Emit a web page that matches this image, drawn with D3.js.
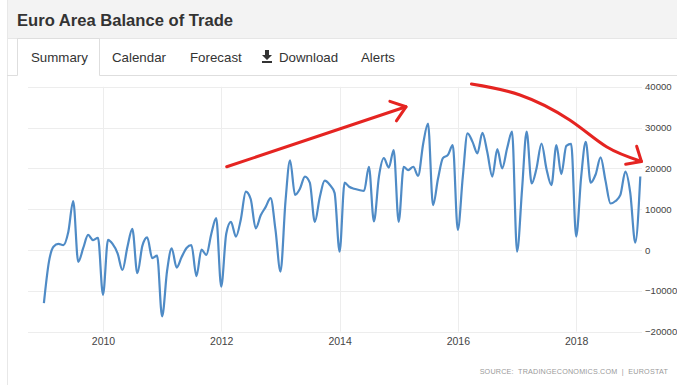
<!DOCTYPE html>
<html>
<head>
<meta charset="utf-8">
<script src="https://cdn.jsdelivr.net/npm/d3@7"></script>
<style>
  html, body { margin: 0; padding: 0; background: #fff; }
  svg { display: block; font-family: "Liberation Sans", Arial, Helvetica, sans-serif; }
</style>
</head>
<body>
<svg id="chart" width="677" height="385"></svg>
<script>
// Euro area balance of trade, EUR million, monthly from January 2009
const firstMonth = "2009-01-01";
const tradeBalance = [
  // 2009
  -13000, -2900, 800, 1500, 1200, 4500, 12000, -2900, 500, 3700, 2400, 3000,
  // 2010
  -11000, 2500, 1500, -800, -4900, 800, 5200, -5700, 1000, 3100, -2000, -1400,
  // 2011
  -16300, -5000, 400, -4300, -1800, 500, 1200, -6400, 100, -1200, 4000, 7800,
  // 2012
  -9000, 4000, 6900, 3300, 7500, 14300, 12500, 5300, 8500, 10500, 12700, 5000,
  // 2013
  -5300, 12000, 22000, 13500, 15000, 18000, 16500, 6900, 13000, 17000, 16000, 14000,
  // 2014
  -400, 16500, 15500, 15000, 14700, 14500, 20400, 7000, 18000, 22500, 20200, 24500,
  // 2015
  6900, 20400, 19600, 20400, 18200, 26000, 31000, 11000, 17500, 22500, 23300, 25700,
  // 2016
  4900, 18000, 28600, 26500, 23700, 28700, 24000, 18000, 24700, 20000, 25000, 29000,
  // 2017
  -400, 15000, 29000, 16300, 20000, 26100, 20000, 15900, 25700, 18600, 25500, 26000,
  // 2018
  3300, 18000, 26500, 16500, 18500, 22700, 17000, 11400, 12000, 13500, 19200, 14000,
  // 2019
  1800, 18000
];

const yTickValues = [-20000, -10000, 0, 10000, 20000, 30000, 40000];
const xTickYears = [2010, 2012, 2014, 2016, 2018];
const tabLabels = ["Summary", "Calendar", "Forecast", "Download", "Alerts"];
const titleText = "Euro Area Balance of Trade";
const sourceText = "SOURCE:  TRADINGECONOMICS.COM  |  EUROSTAT";

// Hand-drawn trend arrows, anchored in (date, value) space
const riseArrow = [["2012-02-04", 20400], ["2015-02-15", 35100]];
const fallArrow = [["2016-03-25", 40700], ["2017-01-19", 38000], ["2017-11-22", 31850],
                   ["2018-07-07", 25300], ["2019-02-08", 21700]];

const W = 677, H = 385;
const svg = d3.select("#chart");

// ---------- page frame ----------
svg.append("rect").attr("x", 0).attr("y", 0).attr("width", W).attr("height", H).attr("fill", "#fff");
svg.append("rect").attr("x", 7).attr("y", 0).attr("width", W - 7).attr("height", 38).attr("fill", "#f3f3f3");
svg.append("line").attr("x1", 7).attr("x2", W).attr("y1", 38.5).attr("y2", 38.5).attr("stroke", "#e6e6e6");
svg.append("line").attr("x1", 7.5).attr("x2", 7.5).attr("y1", 0).attr("y2", H).attr("stroke", "#e8e8e8");

svg.append("text").attr("x", 17).attr("y", 26)
  .attr("font-size", 16.6).attr("font-weight", "bold").attr("fill", "#333")
  .text(titleText);

// ---------- tabs ----------
svg.append("path")
  .attr("d", "M7,75.5 H17.5 V38.5 H99.5 V75.5 H677")
  .attr("fill", "none").attr("stroke", "#dedede");
svg.append("rect").attr("x", 18).attr("y", 39).attr("width", 81).attr("height", 37).attr("fill", "#fff");

const tabX = [31, 112, 190, 279, 361];
tabLabels.forEach((t, i) => {
  svg.append("text").attr("x", tabX[i]).attr("y", 62)
    .attr("font-size", 13.3).attr("fill", "#333").text(t);
});
// download glyph
svg.append("path")
  .attr("d", "M265,50 h4 v5 h3 l-5,5 l-5,-5 h3 z M262,61 h10 v2 h-10 z")
  .attr("fill", "#333");

// ---------- scales ----------
const parse = d3.utcParse("%Y-%m-%d");
const t0 = parse(firstMonth);
const series = tradeBalance.map((v, i) => ({ date: d3.utcMonth.offset(t0, i), value: v }));

const x = d3.scaleUtc()
  .domain([t0, series[series.length - 1].date])
  .range([43.9, 640.3]);
const y = d3.scaleLinear().domain([-20000, 40000]).range([331.6, 86.8]);

const plotLeft = 28, plotRight = 642;

// ---------- grid ----------
const grid = svg.append("g").attr("stroke", "#ededed").attr("stroke-width", 1);
grid.selectAll("line.h").data(yTickValues).join("line")
  .attr("x1", plotLeft).attr("x2", plotRight)
  .attr("y1", d => Math.round(y(d)) + 0.5).attr("y2", d => Math.round(y(d)) + 0.5);
grid.selectAll("line.v").data(xTickYears).join("line")
  .attr("x1", d => Math.round(x(new Date(Date.UTC(d, 0, 1)))) + 0.5)
  .attr("x2", d => Math.round(x(new Date(Date.UTC(d, 0, 1)))) + 0.5)
  .attr("y1", y(40000)).attr("y2", y(-20000));

// ---------- axes (labels only) ----------
const yAxis = d3.axisRight(y).tickValues(yTickValues).tickSize(0).tickPadding(0).tickFormat(d3.format("d"));
svg.append("g").attr("transform", "translate(645,0)").call(yAxis)
  .call(g => g.select(".domain").remove())
  .call(g => g.selectAll("text").attr("font-size", 9.6).attr("fill", "#444")
    .attr("font-family", "\"Liberation Sans\", Arial, sans-serif"));

const xAxis = d3.axisBottom(x)
  .tickValues(xTickYears.map(yr => new Date(Date.UTC(yr, 0, 1))))
  .tickSize(0).tickPadding(0).tickFormat(d3.utcFormat("%Y"));
svg.append("g").attr("transform", "translate(0,338)").call(xAxis)
  .call(g => g.select(".domain").remove())
  .call(g => g.selectAll("text").attr("font-size", 10.5).attr("fill", "#444")
    .attr("font-family", "\"Liberation Sans\", Arial, sans-serif"));

// ---------- series ----------
const line = d3.line().x(d => x(d.date)).y(d => y(d.value)).curve(d3.curveMonotoneX);
svg.append("path").datum(series)
  .attr("d", line)
  .attr("fill", "none")
  .attr("stroke", "#4f8bc6")
  .attr("stroke-width", 2.2)
  .attr("stroke-linejoin", "round");

// ---------- source ----------
svg.append("text").attr("x", 668).attr("y", 374).attr("text-anchor", "end")
  .attr("font-size", 7.2).attr("fill", "#9a9a9a").attr("letter-spacing", 0.2)
  .style("white-space", "pre")
  .text(sourceText);

// ---------- trend arrows ----------
const red = "#e52421";
const toPx = p => [x(parse(p[0])), y(p[1])];

function arrowHead(tip, angle, len, spread) {
  const back = angle + Math.PI;
  const a1 = [tip[0] + len * Math.cos(back - spread), tip[1] + len * Math.sin(back - spread)];
  const a2 = [tip[0] + len * Math.cos(back + spread), tip[1] + len * Math.sin(back + spread)];
  return `M${a1[0]},${a1[1]} L${tip[0]},${tip[1]} L${a2[0]},${a2[1]}`;
}

const rise = riseArrow.map(toPx);
svg.append("path")
  .attr("d", d3.line()(rise))
  .attr("fill", "none").attr("stroke", red).attr("stroke-width", 3).attr("stroke-linecap", "round");
const riseAng = Math.atan2(rise[1][1] - rise[0][1], rise[1][0] - rise[0][0]);
svg.append("path")
  .attr("d", arrowHead(rise[1], riseAng, 17, 0.65))
  .attr("fill", "none").attr("stroke", red).attr("stroke-width", 3)
  .attr("stroke-linecap", "round").attr("stroke-linejoin", "round");

const fall = fallArrow.map(toPx);
svg.append("path")
  .attr("d", d3.line().curve(d3.curveNatural)(fall))
  .attr("fill", "none").attr("stroke", red).attr("stroke-width", 3).attr("stroke-linecap", "round");
const n = fall.length;
const fallAng = Math.atan2(fall[n - 1][1] - fall[n - 2][1], fall[n - 1][0] - fall[n - 2][0]) + 0.15;
svg.append("path")
  .attr("d", arrowHead(fall[n - 1], fallAng, 16, 0.72))
  .attr("fill", "none").attr("stroke", red).attr("stroke-width", 3)
  .attr("stroke-linecap", "round").attr("stroke-linejoin", "round");
</script>
</body>
</html>
